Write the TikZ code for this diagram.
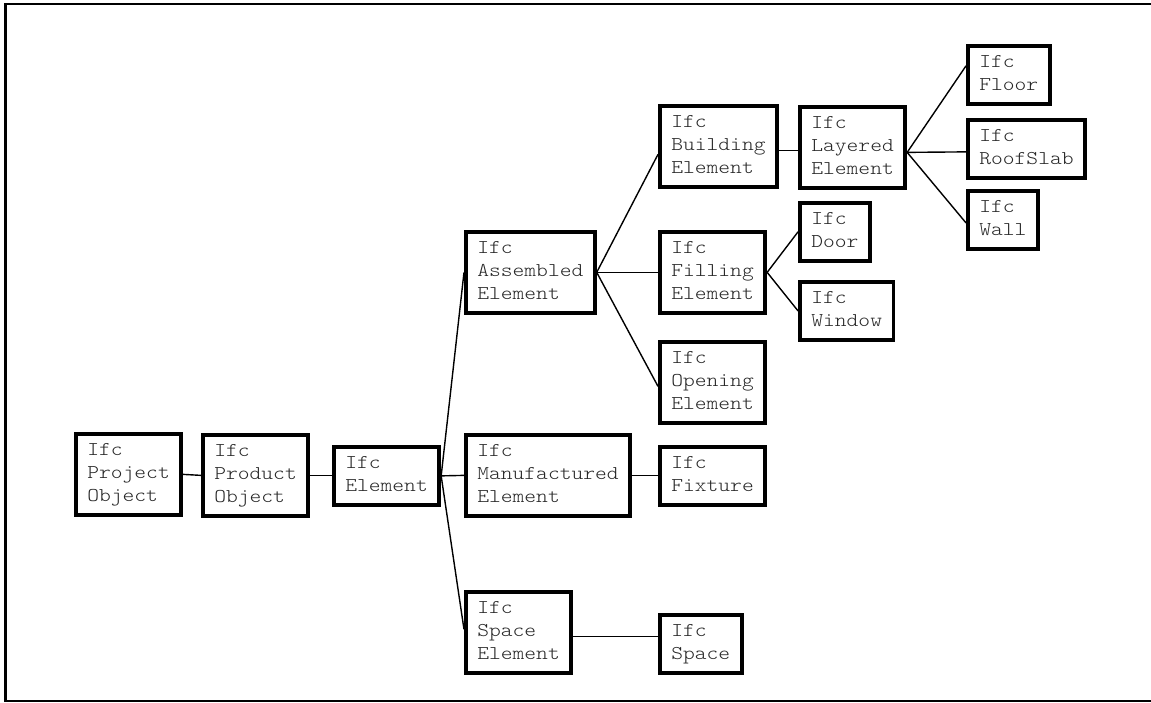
\documentclass[tikz,border=0pt]{standalone}
\usepackage{fontspec}
\newfontfamily\ifcfont[FakeStretch=1.15]{lmmonolt10-regular.otf}
\newcommand{\ifcname}[1]{\strut Ifc\\#1\strut}
\tikzset{
	ifc/.style={draw, line width=3.75pt, anchor=north west, align=left,
		inner xsep=11.5pt, inner ysep=6pt, text=black!85,
		font=\ifcfont\fontsize{19.5}{23}\selectfont},
	link/.style={line width=1.4pt}
}

\begin{document}
\begin{tikzpicture}[x=1pt,y=-1pt]
	\useasboundingbox (0,0) rectangle (1151,703);
	\draw[line width=2.5pt] (1151,4) -- (5.5,4) -- (5.5,701) -- (1151,701);

	\node[ifc] (po) at (74,432) {\ifcname{Project\\Object}};
	\node[ifc] (pr) at (201,433) {\ifcname{Product\\Object}};
	\node[ifc] (el) at (332,445) {\ifcname{Element}};
	\node[ifc] (as) at (464,230) {\ifcname{Assembled\\Element}};
	\node[ifc] (mf) at (464,433) {\ifcname{Manufactured\\Element}};
	\node[ifc] (se) at (464,590) {\ifcname{Space\\Element}};
	\node[ifc] (bd) at (658,104) {\ifcname{Building\\Element}};
	\node[ifc] (fl) at (658,230) {\ifcname{Filling\\Element}};
	\node[ifc] (op) at (658,340) {\ifcname{Opening\\Element}};
	\node[ifc] (fx) at (658,445) {\ifcname{Fixture}};
	\node[ifc] (sp) at (658,613) {\ifcname{Space}};
	\node[ifc] (ly) at (798,105) {\ifcname{Layered\\Element}};
	\node[ifc] (dr) at (798,201) {\ifcname{Door}};
	\node[ifc] (wn) at (798,280) {\ifcname{Window}};
	\node[ifc] (flr) at (966,44) {\ifcname{Floor}};
	\node[ifc] (rs) at (966,118) {\ifcname{RoofSlab}};
	\node[ifc] (wl) at (966,189) {\ifcname{Wall}};

	\draw[link] (po.east) -- (pr.west);
	\draw[link] (pr.east) -- (pr.east -| el.west);
	\foreach \tgt/\dy in {as/0pt, mf/0pt, se/3pt}
	\draw[link] (el.east) -- ([yshift=\dy]\tgt.west);
	\foreach \tgt/\dy in {bd/-8pt, fl/0pt, op/-4pt}
	\draw[link] (as.east) -- ([yshift=\dy]\tgt.west);
	\draw[link] ([yshift=-4pt]bd.east) -- ([yshift=-4pt]bd.east -| ly.west);
	\foreach \tgt in {dr, wn}
	\draw[link] (fl.east) -- (\tgt.west);
	\foreach \tgt/\dy in {flr/9pt, rs/-3pt, wl/-3pt}
	\draw[link] ([yshift=-5pt]ly.east) -- ([yshift=\dy]\tgt.west);
	\draw[link] (mf.east) -- (mf.east -| fx.west);
	\draw[link] ([yshift=-4pt]se.east) -- ([yshift=-4pt]se.east -| sp.west);
\end{tikzpicture}
\end{document}
